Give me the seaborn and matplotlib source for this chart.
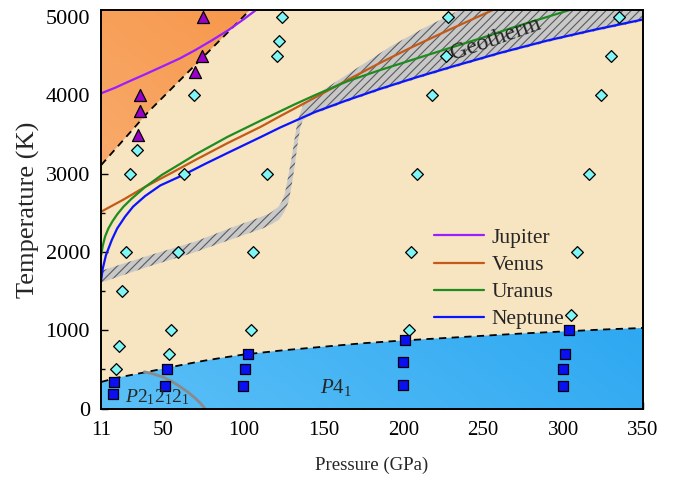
import numpy as np
import matplotlib
matplotlib.use("Agg")
import matplotlib.pyplot as plt
import seaborn as sns
from matplotlib.patches import Polygon
from matplotlib.colors import to_rgb

# ---- data ----
diam_p = [124, 122, 121, 228, 227, 335, 330, 218, 324, 69, 33.5, 29, 63, 115, 208.5, 316,
          26.6, 59, 106, 205, 309, 24, 22, 20.5, 55, 53.5, 105, 203.5, 305]
diam_t = [5000, 4700, 4500, 5000, 4500, 5000, 4500, 4000, 4000, 4000, 3300, 3000, 3000, 3000, 3000, 3000,
          2000, 2000, 2000, 2000, 2000, 1500, 800, 500, 1000, 700, 1000, 1000, 1200]
tri_p = [75, 74, 69.5, 35.4, 35, 34]
tri_t = [5000, 4500, 4300, 4000, 3800, 3500]
sq_p = [19, 18.5, 52, 51, 103, 101, 100, 201, 200, 200, 303.5, 301.5, 300, 300]
sq_t = [340, 190, 500, 290, 700, 500, 290, 870, 600, 300, 1000, 700, 500, 290]

jup_p = [11, 20, 28, 38, 49, 60, 70, 80, 90.6, 100, 107, 111]
jup_t = [4027, 4100, 4175, 4265, 4367, 4470, 4580, 4700, 4834, 4970, 5077, 5140]
ven_p = [11, 25, 38.5, 55, 70, 90, 111, 123, 145, 165, 185, 206, 230, 256]
ven_t = [2515, 2670, 2832, 3010, 3176, 3390, 3601, 3735, 3975, 4196, 4410, 4622, 4850, 5090]
ura_p = [11, 12, 13.5, 15.5, 18, 21, 25, 30, 38.5, 49, 60, 70, 90, 111, 132, 145, 165, 185, 205,
         227, 250, 269, 304, 350]
ura_t = [1960, 2080, 2200, 2300, 2390, 2480, 2580, 2680, 2830, 2985, 3120, 3245, 3470, 3680, 3885,
         4005, 4180, 4320, 4450, 4592, 4740, 4870, 5090, 5350]
nep_p = [11, 12, 14, 17.7, 21, 26, 31, 38.5, 48, 63, 76, 90.6, 111, 123, 145, 165, 185, 208, 231,
         260, 290, 320, 350]
nep_t = [1640, 1790, 1960, 2156, 2300, 2453, 2580, 2715, 2850, 2990, 3125, 3270, 3470, 3590, 3790,
         3940, 4080, 4230, 4370, 4540, 4700, 4840, 4970]

# phase boundaries
hot_p = [11, 40.6, 93.7, 104]
hot_t = [3110, 3792, 4876, 5090]
p41_p = [11, 20, 30, 40, 50, 62, 75, 87, 100, 125, 150, 175, 200, 225, 250, 275, 300, 325, 350]
p41_t = [340, 390, 430, 470, 510, 560, 610, 650, 690, 745, 790, 835, 870, 900, 930, 960, 985, 1010, 1030]
p212_p = [38, 44, 50, 55, 60, 65, 70, 73, 76]
p212_t = [470, 440, 400, 350, 285, 215, 130, 70, 0]

# geotherm band
geo_lo_p = [11, 40, 70, 95, 112, 118, 122, 124, 126, 128, 130, 132, 134, 135.5, 137, 140, 145,
            165, 185, 208, 231, 260, 290, 320, 350]
geo_lo_t = [1610, 1810, 2000, 2180, 2300, 2360, 2410, 2460, 2530, 2630, 2830, 3090, 3400, 3580, 3680,
            3730, 3770, 3920, 4060, 4210, 4350, 4520, 4680, 4820, 4950]
geo_hi_p = [11, 40, 70, 95, 110, 116, 119, 122, 124, 126, 128, 130, 132, 134, 137, 143, 150,
            170.8, 191.6, 212.4, 229, 237, 260, 350]
geo_hi_t = [1760, 1950, 2134, 2330, 2440, 2490, 2530, 2580, 2640, 2750, 2960, 3180, 3440, 3680, 3860,
            3980, 4069, 4345, 4620, 4855, 5025, 5110, 5300, 5700]

planets = ["Jupiter", "Venus", "Uranus", "Neptune"]
colors = ["#9B1EFF", "#C35A18", "#1E8C1E", "#0A14FF"]

XL = (11, 350)
YL = (0, 5090)

sns.set_theme(style="ticks")
plt.rcParams["font.family"] = ["Liberation Serif", "DejaVu Serif"]
plt.rcParams["mathtext.fontset"] = "custom"
plt.rcParams["mathtext.rm"] = "Liberation Serif"
plt.rcParams["mathtext.it"] = "Liberation Serif:italic"
plt.rcParams["hatch.linewidth"] = 0.8

fig, ax = plt.subplots(figsize=(6.79, 4.79), dpi=100)
fig.subplots_adjust(left=0.149, right=0.947, top=0.979, bottom=0.147)
ax.set_facecolor("#F7E4C0")
ax.set_xlim(*XL)
ax.set_ylim(*YL)


def gradient_fill(verts, c1, c2, z):
    poly = Polygon(verts, closed=True, facecolor="none", edgecolor="none")
    ax.add_patch(poly)
    gx, gy = np.meshgrid(np.linspace(0, 1, 200), np.linspace(0, 1, 200))
    t = np.clip((gx + gy) / 2, 0, 1)[..., None]
    img = (1 - t) * np.array(to_rgb(c1)) + t * np.array(to_rgb(c2))
    im = ax.imshow(img, extent=[XL[0], XL[1], YL[0], YL[1]], origin="lower",
                   aspect="auto", zorder=z, interpolation="bilinear")
    im.set_clip_path(poly)


# hot (orange) region
gradient_fill(list(zip(hot_p, hot_t)) + [(11, 5090)], "#FABB88", "#F5842A", 1)
# P4_1 (blue) region
gradient_fill(list(zip(p41_p, p41_t)) + [(350, 0), (11, 0)], "#5CC0F7", "#0F98EE", 1)

# geotherm band
band = list(zip(geo_lo_p, geo_lo_t)) + list(zip(geo_hi_p, geo_hi_t))[::-1]
ax.add_patch(Polygon(band, closed=True, facecolor="#C8C8C8", edgecolor="#5A5A5A",
                     linewidth=0, hatch="////", zorder=2))

# boundaries
sns.lineplot(x=hot_p, y=hot_t, ax=ax, color="black", lw=1.3, linestyle=(0, (4, 3)), zorder=3)
sns.lineplot(x=p41_p, y=p41_t, ax=ax, color="black", lw=1.3, linestyle=(0, (4, 3)), zorder=3)
sns.lineplot(x=p212_p, y=p212_t, ax=ax, color="#8A8A8A", lw=2, zorder=3, sort=False)

# planet isentropes
curves = [(jup_p, jup_t), (ven_p, ven_t), (ura_p, ura_t), (nep_p, nep_t)]
for name, col, (px, pt) in zip(planets, colors, curves):
    sns.lineplot(x=px, y=pt, ax=ax, color=col, lw=1.6, label=name, zorder=4)

# markers
sns.scatterplot(x=diam_p, y=diam_t, ax=ax, marker="D", s=36, color="#7FF5F5",
                edgecolor="black", linewidth=0.9, zorder=5, legend=False)
sns.scatterplot(x=tri_p, y=tri_t, ax=ax, marker="^", s=75, color="#9B00C8",
                edgecolor="black", linewidth=0.9, zorder=5, legend=False)
sns.scatterplot(x=sq_p, y=sq_t, ax=ax, marker="s", s=42, color="#0A10F0",
                edgecolor="black", linewidth=0.9, zorder=5, legend=False)

# labels in the plot
ax.text(231, 4450, "Geotherm", rotation=19.5, rotation_mode="anchor", fontsize=17,
        ha="left", va="baseline", zorder=6)
ax.text(26, 20, r"$\mathit{P}2_12_12_1$", fontsize=14, ha="left", va="bottom", zorder=6)
ax.text(148, 140, r"$\mathit{P}4_1$", fontsize=15, ha="left", va="bottom", zorder=6)

leg = ax.legend(loc="upper left", bbox_to_anchor=(0.598, 0.475), frameon=False,
                fontsize=15.5, handlelength=2.35, handletextpad=0.35, labelspacing=0.33,
                borderaxespad=0)

ax.set_xticks([11, 50, 100, 150, 200, 250, 300, 350])
ax.set_xticks([25, 75, 125, 175, 225, 275, 325], minor=True)
ax.set_yticks([0, 1000, 2000, 3000, 4000, 5000])
ax.set_yticks([500, 1500, 2500, 3500, 4500], minor=True)
ax.tick_params(which="both", direction="in", width=1, colors="black")
ax.tick_params(axis="x", which="major", labelsize=15, pad=9)
ax.tick_params(axis="y", which="major", labelsize=16, pad=8)
ax.tick_params(which="major", length=5)
ax.tick_params(which="minor", length=3)
ax.set_xlabel("Pressure (GPa)", fontsize=13.5)
ax.set_ylabel("Temperature (K)", fontsize=19)
ax.xaxis.set_label_coords(0.5, -0.12)
ax.yaxis.set_label_coords(-0.113, 0.5)
for s in ax.spines.values():
    s.set_linewidth(1.4)
    s.set_color("black")
    s.set_zorder(10)

fig.savefig("out.png", dpi=100)
